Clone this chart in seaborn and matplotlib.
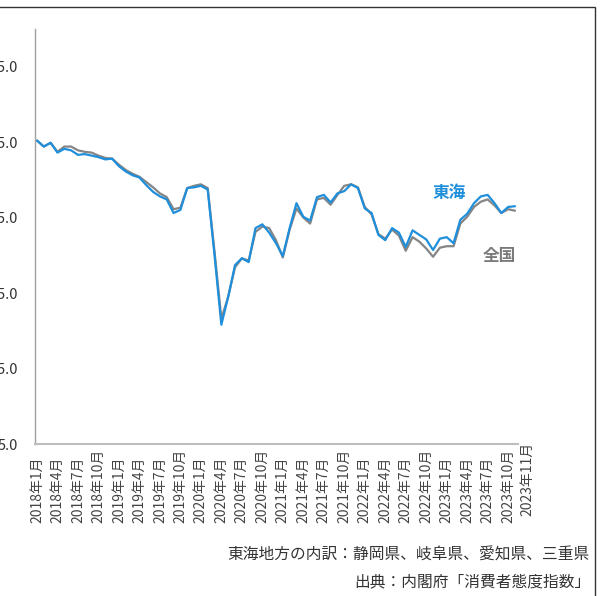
import matplotlib
matplotlib.use("Agg")
import matplotlib.pyplot as plt
from matplotlib.patches import Rectangle
from matplotlib.transforms import ScaledTranslation
import seaborn as sns
import pandas as pd

# ---- data ----
tick_pos = [0, 3, 6, 9, 12, 15, 18, 21, 24, 27, 30, 33, 36, 39, 42, 45, 48, 51, 54, 57, 60, 63, 66, 69, 70]
tick_labels = ["2018年1月", "2018年4月", "2018年7月", "2018年10月",
               "2019年1月", "2019年4月", "2019年7月", "2019年10月",
               "2020年1月", "2020年4月", "2020年7月", "2020年10月",
               "2021年1月", "2021年4月", "2021年7月", "2021年10月",
               "2022年1月", "2022年4月", "2022年7月", "2022年10月",
               "2023年1月", "2023年4月", "2023年7月", "2023年10月", "2023年11月"]

tokai = [45.2, 44.4, 44.9, 43.6, 44.1, 43.9, 43.3, 43.4, 43.2, 43.0, 42.7, 42.8,
         41.8, 41.1, 40.6, 40.3, 39.3, 38.4, 37.8, 37.4, 35.6, 36.0, 38.9, 39.0,
         39.2, 38.7, 30.0, 20.8, 24.5, 28.7, 29.6, 29.1, 33.6, 34.1, 33.0, 31.6,
         29.9, 33.6, 36.9, 35.1, 34.6, 37.7, 38.0, 37.0, 38.2, 38.5, 39.4, 38.9,
         36.2, 35.6, 32.7, 32.0, 33.6, 33.0, 31.1, 33.3, 32.7, 32.1, 30.7, 32.2,
         32.4, 31.6, 34.7, 35.5, 36.9, 37.8, 38.0, 36.9, 35.6, 36.4, 36.5]

zenkoku = [45.2, 44.4, 44.9, 43.7, 44.4, 44.4, 43.9, 43.7, 43.6, 43.2, 42.9, 42.8,
           42.0, 41.3, 40.8, 40.4, 39.7, 39.0, 38.2, 37.7, 36.1, 36.3, 38.9, 39.2,
           39.4, 38.9, 30.5, 21.6, 24.5, 28.4, 29.6, 29.3, 33.1, 33.8, 33.6, 32.0,
           29.7, 33.4, 36.2, 35.0, 34.2, 37.4, 37.6, 36.7, 38.0, 39.2, 39.4, 39.0,
           36.4, 35.4, 32.8, 32.2, 33.4, 32.6, 30.6, 32.4, 31.8, 30.9, 29.8, 31.0,
           31.2, 31.2, 34.2, 35.1, 36.4, 37.1, 37.4, 36.6, 35.6, 36.1, 35.9]

y_ticks = [5.0, 15.0, 25.0, 35.0, 45.0, 55.0]
series_names = ["全国", "東海"]
note_lines = ["東海地方の内訳：静岡県、岐阜県、愛知県、三重県", "出典：内閣府「消費者態度指数」"]

# ---- style ----
sns.set_style("white")
plt.rcParams["font.family"] = ["Noto Sans CJK JP", "DejaVu Sans"]

BLUE = "#1f8fdc"
GRAY = "#858585"

df = pd.concat([
    pd.DataFrame({"month": range(len(zenkoku)), "value": zenkoku, "series": series_names[0]}),
    pd.DataFrame({"month": range(len(tokai)), "value": tokai, "series": series_names[1]}),
])

fig = plt.figure(figsize=(6.14, 5.96), dpi=100)
ax = fig.add_axes([35 / 614, 152 / 596, 483 / 614, 415.2 / 596])

sns.lineplot(data=df, x="month", y="value", hue="series",
             palette={series_names[0]: GRAY, series_names[1]: BLUE},
             linewidth=1.6, legend=False, ax=ax)

ax.set_xlim(-0.29, 70.44)
ax.set_ylim(5, 60)
ax.set_yticks(y_ticks)
ax.set_yticklabels([f"{v:.1f}" for v in y_ticks], fontsize=10.5, color="#333333")
ax.set_xticks(tick_pos)
ax.set_xticklabels(tick_labels, rotation=90, fontsize=10.0, color="#444444")
ax.tick_params(axis="x", length=0, pad=57)
ax.tick_params(axis="y", length=0, pad=12)
ax.set_xlabel("")
ax.set_ylabel("")

xl = ax.get_xticklabels()
for lbl in xl:
    lbl.set_va("bottom")
# last label sits slightly offset to the right and up (as in the reference)
xl[-1].set_transform(xl[-1].get_transform() + ScaledTranslation(9 / 72, 5 / 72, fig.dpi_scale_trans))

for s in ["top", "right"]:
    ax.spines[s].set_visible(False)
ax.spines["left"].set_color("#a0a0a0")
ax.spines["left"].set_linestyle((0, (1, 1)))
ax.spines["left"].set_linewidth(1.0)
ax.spines["bottom"].set_color("#bdbdbd")
ax.spines["bottom"].set_linewidth(1.5)

# series labels
ax.annotate(series_names[1], xy=(449, 596 - 193), xycoords="figure pixels",
            ha="center", va="center", fontsize=12, fontweight="bold", color=BLUE)
ax.annotate(series_names[0], xy=(499, 596 - 256), xycoords="figure pixels",
            ha="center", va="center", fontsize=12, fontweight="bold", color="#7a7a7a")

# notes
fig.text(590 / 614, 1 - 555 / 596, note_lines[0], ha="right", va="center",
         fontsize=11.3, color="#333333")
fig.text(590 / 614, 1 - 582 / 596, note_lines[1], ha="right", va="center",
         fontsize=11.3, color="#333333")

# outer frame (top and right edges visible)
fig.add_artist(Rectangle((-0.05, -0.05), 0.05 + 595 / 614, 0.05 + (596 - 7) / 596,
                         transform=fig.transFigure, fill=False,
                         edgecolor="#333333", linewidth=1.0))

fig.savefig("out.png", dpi=100, facecolor="white")
